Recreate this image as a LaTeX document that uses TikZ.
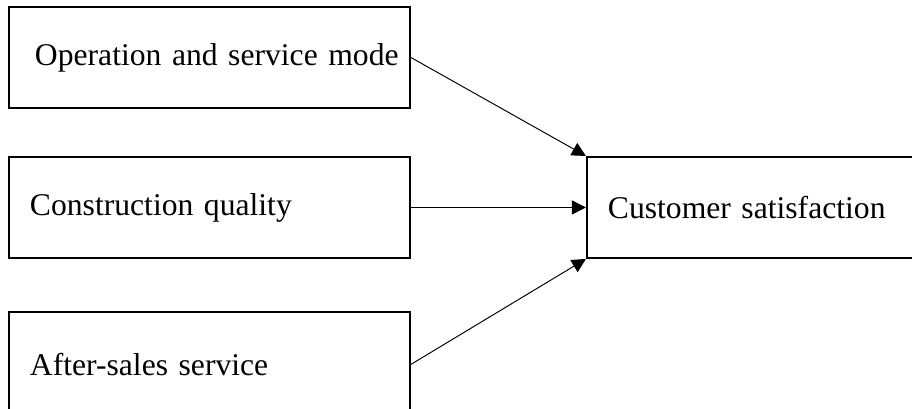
\documentclass[tikz,border=0pt]{standalone}
\usepackage{fontspec}
\setmainfont{Liberation Serif}
\usetikzlibrary{arrows.meta,positioning}
\tikzset{
  box/.style={rectangle, draw, line width=1.1pt, minimum width=8.02cm,
              minimum height=2.02cm, text width=7.18cm, inner xsep=0.42cm,
              align=left, font=\fontsize{18}{21}\selectfont},
  res/.style={box, minimum width=6.8cm, text width=5.96cm},
  arr/.style={-{Triangle[length=0.28cm, width=0.28cm]}, line width=0.55pt}
}

\begin{document}
\begin{tikzpicture}[node distance=0.94cm]
  \clip (-4.19,1.15) rectangle (14.05,-7.01);
  \node[box, inner xsep=0.52cm, text width=6.98cm] (op) {\mbox{Operation and service mode}};
  \node[box, below=of op] (cq) {Construction quality};
  \node[box, below=1.04cm of cq, minimum height=2.1cm] (as) {After-sales service};
  \node[res, right=3.5cm of cq] (cs) {Customer satisfaction};
  \draw[arr] (op.east)--(cs.north west);
  \draw[arr] (cq)--(cs);
  \draw[arr] (as.east)--(cs.south west);
\end{tikzpicture}
\end{document}
